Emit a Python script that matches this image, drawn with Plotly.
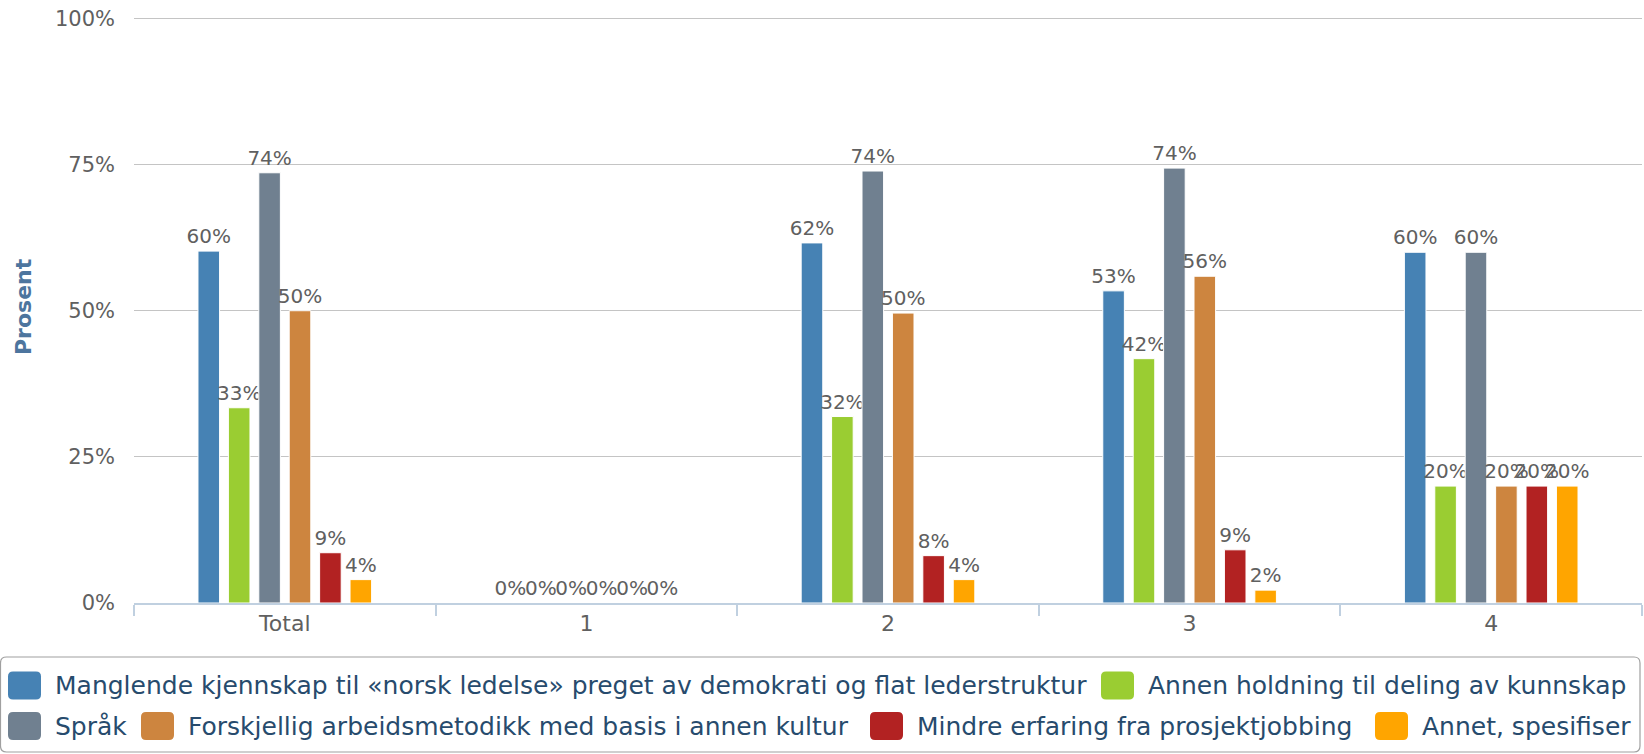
import plotly.graph_objects as go

# ---------------- data ----------------
categories = ["Total", "1", "2", "3", "4"]
series_names = [
    "Manglende kjennskap til «norsk ledelse» preget av demokrati og flat lederstruktur",
    "Annen holdning til deling av kunnskap",
    "Språk",
    "Forskjellig arbeidsmetodikk med basis i annen kultur",
    "Mindre erfaring fra prosjektjobbing",
    "Annet, spesifiser",
]
series_colors = ["#4682B4", "#9ACD32", "#708090", "#CD853F", "#B22222", "#FFA500"]

manglende = [60.2, 0, 61.6, 53.4, 60.0]
annen_holdning = [33.4, 0, 31.9, 41.8, 20.0]
spraak = [73.6, 0, 73.9, 74.4, 60.0]
forskjellig = [50.0, 0, 49.6, 55.9, 20.0]
mindre_erfaring = [8.6, 0, 8.1, 9.1, 20.0]
annet = [4.0, 0, 4.0, 2.2, 20.0]
series_values = [manglende, annen_holdning, spraak, forskjellig, mindre_erfaring, annet]

y_ticks = [0, 25, 50, 75, 100]
y_ticklabels = ["0%", "25%", "50%", "75%", "100%"]
y_title = "Prosent"

# ---------------- layout geometry (pixels) ----------------
W, H = 1644, 754
L, R, T, B = 134, 1642, 17, 603
FONT = "DejaVu Sans"


def px_x(x):
    return (x - L) / (R - L)


def px_y(y):
    return (B - y) / (B - T)


def rrect(x0, y0, x1, y1, r):
    rx = r / (R - L)
    ry = r / (B - T)
    a0, a1 = px_x(x0), px_x(x1)
    b0, b1 = px_y(y0), px_y(y1)  # b0 top, b1 bottom
    return (
        f"M {a0+rx},{b0} L {a1-rx},{b0} Q {a1},{b0} {a1},{b0-ry} "
        f"L {a1},{b1+ry} Q {a1},{b1} {a1-rx},{b1} L {a0+rx},{b1} "
        f"Q {a0},{b1} {a0},{b1+ry} L {a0},{b0-ry} Q {a0},{b0} {a0+rx},{b0} Z"
    )


fig = go.Figure()
for name, color, vals in zip(series_names, series_colors, series_values):
    fig.add_trace(
        go.Bar(
            name=name,
            x=categories,
            y=vals,
            marker=dict(color=color, line=dict(color="white", width=1)),
            texttemplate="%{y:.0f}%",
            textposition="outside",
            textfont=dict(family=FONT, size=20, color="#606060"),
            constraintext="none",
            cliponaxis=False,
            showlegend=False,
        )
    )

shapes = []
annotations = []

# legend box
shapes.append(
    dict(type="path", xref="paper", yref="paper",
         path=rrect(0.5, 657, 1640, 752, 6),
         line=dict(color="#A0A0A0", width=1.2), fillcolor="rgba(0,0,0,0)", layer="above")
)

# legend items: (series index, square left px, text left px, row center px)
row1, row2 = 685.5, 726
legend_layout = [
    (0, 8, 53, row1),
    (1, 1101, 1146, row1),
    (2, 8, 53, row2),
    (3, 141, 186, row2),
    (4, 870, 915, row2),
    (5, 1375, 1420, row2),
]
for idx, sx, tx, cy in legend_layout:
    shapes.append(
        dict(type="path", xref="paper", yref="paper",
             path=rrect(sx, cy - 14, sx + 33, cy + 14, 5),
             line=dict(width=0), fillcolor=series_colors[idx], layer="above")
    )
    annotations.append(
        dict(text=series_names[idx], xref="paper", yref="paper",
             x=px_x(tx), y=px_y(cy), xanchor="left", yanchor="middle",
             showarrow=False, font=dict(family=FONT, size=25, color="#274b6d"))
    )

# y-axis title
annotations.append(
    dict(text=f"<b>{y_title}</b>", xref="paper", yref="paper",
         x=px_x(23), y=px_y(307), xanchor="center", yanchor="middle",
         textangle=-90, showarrow=False,
         font=dict(family=FONT, size=22, color="#4d759e"))
)

fig.update_layout(
    width=W, height=H,
    margin=dict(l=L, r=W - R, t=T, b=H - B, pad=0),
    paper_bgcolor="white", plot_bgcolor="white",
    barmode="group", bargap=0.395, bargroupgap=0.29,
    font=dict(family=FONT),
    shapes=shapes, annotations=annotations,
    showlegend=False,
    xaxis=dict(
        type="category", categoryorder="array", categoryarray=categories,
        showline=True, linecolor="#C0D0E0", linewidth=1.5,
        tickson="boundaries", ticks="outside", ticklen=11, tickcolor="#C0D0E0", tickwidth=1.5,
        showgrid=False, zeroline=False,
        tickfont=dict(family=FONT, size=22, color="#606060"),
    ),
    yaxis=dict(
        range=[0, 100.25], tickmode="array", tickvals=y_ticks, ticktext=y_ticklabels,
        showgrid=True, gridcolor="#C4C4C4", gridwidth=1.2,
        zeroline=False, showline=False, ticks="",
        ticklabelstandoff=18,
        tickfont=dict(family=FONT, size=21, color="#606060"),
    ),
)

fig.write_html(
    "out.html",
    config={"displayModeBar": False},
    post_script="document.body.style.margin='0px';",
)
